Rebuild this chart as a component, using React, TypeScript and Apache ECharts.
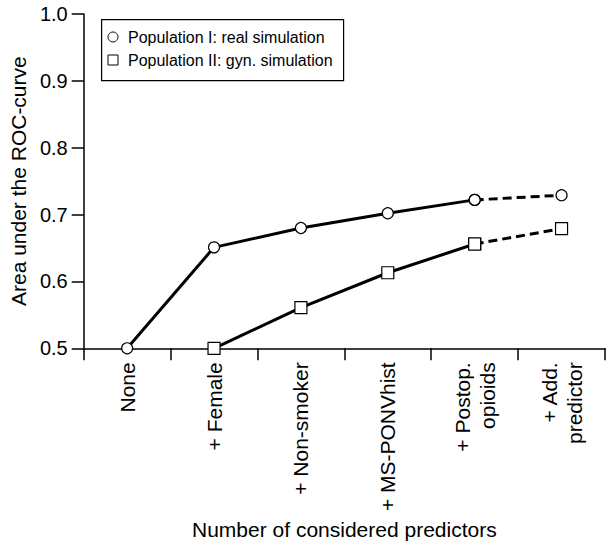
import React, { useEffect, useRef } from "react";
import * as echarts from "echarts";

const categories = [
  "None",
  "+ Female",
  "+ Non-smoker",
  "+ MS-PONVhist",
  "+ Postop.\nopioids",
  "+ Add.\npredictor",
];
const popI = [0.5, 0.651, 0.68, 0.702, 0.722, 0.729];
const popII: (number | null)[] = [null, 0.5, 0.561, 0.613, 0.656, 0.679];
const yTicks = [0.5, 0.6, 0.7, 0.8, 0.9, 1.0];
const legendNames = ["Population I: real simulation", "Population II: gyn. simulation"];
const solidEndIndex = 4; // last observed predictor; beyond it the line is dashed

const FONT = "Liberation Sans, Arial, Helvetica, sans-serif";

function split(values: (number | null)[]) {
  const solid = values.map((v, i) => (i <= solidEndIndex ? v : null));
  const dashed = values.map((v, i) => (i >= solidEndIndex ? v : null));
  return { solid, dashed };
}

export default function App() {
  const ref = useRef<HTMLDivElement>(null);
  useEffect(() => {
    document.body.style.margin = "0";
    if (!ref.current) return;
    const chart = echarts.init(ref.current, undefined, { renderer: "svg" });
    const a = split(popI);
    const b = split(popII);
    const lineW = 3;
    const sym = { color: "#fff", borderColor: "#000", borderWidth: 1.2 };
    const mk = (data: (number | null)[], symbol: string, size: number, dashed: boolean) => ({
      type: "line",
      data,
      symbol,
      symbolSize: size,
      showSymbol: true,
      connectNulls: false,
      clip: false,
      z: dashed ? 2 : 3,
      lineStyle: { color: "#000", width: lineW, type: dashed ? [9, 5] : "solid" },
      itemStyle: sym,
    });
    chart.setOption({
      animation: false,
      backgroundColor: "#fff",
      textStyle: { fontFamily: FONT, color: "#000" },
      grid: { left: 81, top: 14, right: 8, bottom: 195 },
      xAxis: {
        type: "category",
        data: categories,
        boundaryGap: true,
        name: "Number of considered predictors",
        nameLocation: "middle",
        nameGap: 165,
        nameTextStyle: { fontSize: 21, color: "#000", fontFamily: FONT },
        axisLine: { lineStyle: { color: "#000", width: 1.5 } },
        axisTick: { show: true, length: 12, inside: false, lineStyle: { color: "#000", width: 1.5 } },
        axisLabel: {
          rotate: 90,
          margin: 14,
          fontSize: 21,
          lineHeight: 25,
          color: "#000",
          fontFamily: FONT,
          interval: 0,
        },
      },
      yAxis: {
        type: "value",
        min: yTicks[0],
        max: yTicks[yTicks.length - 1],
        interval: 0.1,
        name: "Area under the ROC-curve",
        nameLocation: "middle",
        nameGap: 49,
        nameRotate: 90,
        nameTextStyle: { fontSize: 21, color: "#000", fontFamily: FONT },
        splitLine: { show: false },
        axisLine: { show: true, lineStyle: { color: "#000", width: 1.5 } },
        axisTick: { show: true, length: 12, lineStyle: { color: "#000", width: 1.5 } },
        axisLabel: {
          margin: 16,
          fontSize: 20,
          color: "#000",
          fontFamily: FONT,
          formatter: (v: number) => v.toFixed(1),
        },
      },
      series: [
        mk(a.dashed, "circle", 11, true),
        mk(b.dashed, "rect", 12, true),
        mk(a.solid, "circle", 11, false),
        mk(b.solid, "rect", 12, false),
      ],
      graphic: [
        {
          type: "rect",
          left: 101,
          top: 19,
          shape: { width: 242, height: 61 },
          style: { fill: "#fff", stroke: "#000", lineWidth: 1.2 },
          z: 10,
        },
        {
          type: "circle",
          shape: { cx: 113, cy: 37, r: 5 },
          style: { fill: "#fff", stroke: "#000", lineWidth: 1 },
          z: 11,
        },
        {
          type: "rect",
          shape: { x: 108, y: 55, width: 10, height: 10 },
          style: { fill: "#fff", stroke: "#000", lineWidth: 1 },
          z: 11,
        },
        {
          type: "text",
          x: 128,
          y: 37,
          style: { text: legendNames[0], font: `16px ${FONT}`, fill: "#000", verticalAlign: "middle" },
          z: 11,
        },
        {
          type: "text",
          x: 128,
          y: 60,
          style: { text: legendNames[1], font: `16px ${FONT}`, fill: "#000", verticalAlign: "middle" },
          z: 11,
        },
      ],
    });
    return () => chart.dispose();
  }, []);
  return <div ref={ref} style={{ width: 613, height: 545 }} />;
}
